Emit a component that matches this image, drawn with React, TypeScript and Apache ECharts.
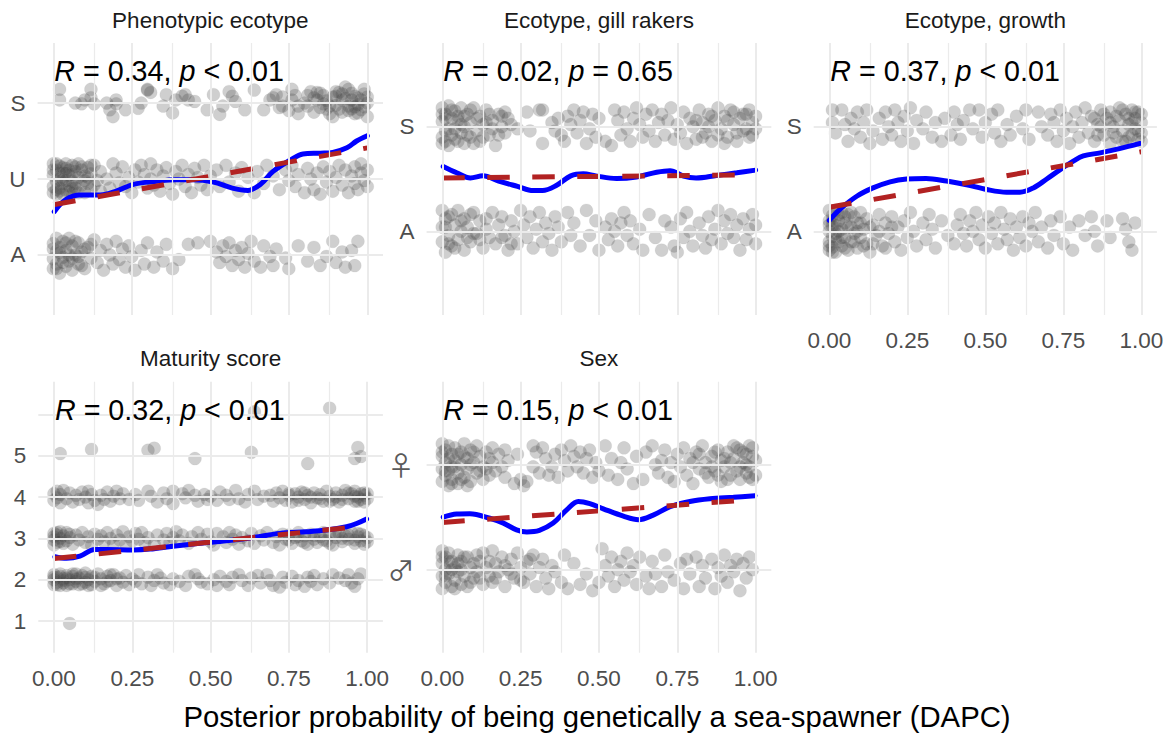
import React, { useEffect, useRef } from "react";
import * as echarts from "echarts";

// ---------- data ----------
const xTickValues = [0, 0.25, 0.5, 0.75, 1];
const xGridValues = [0, 0.125, 0.25, 0.375, 0.5, 0.625, 0.75, 0.875, 1];

const panelTitles = ["Phenotypic ecotype", "Ecotype, gill rakers", "Ecotype, growth", "Maturity score", "Sex"];
const corrR = ["0.34", "0.02", "0.37", "0.32", "0.15"];
const corrP = ["< 0.01", "= 0.65", "< 0.01", "< 0.01", "< 0.01"];

const phenoLevels = ["A", "U", "S"];
const gillLevels = ["A", "S"];
const growthLevels = ["A", "S"];
const maturityLevels = ["1", "2", "3", "4", "5"];
const sexLevels = ["\u2642", "\u2640"];

// jittered points: [x in percent, offset from level in hundredths]
const phenoS = [[2,18],[2,4],[7,0],[9,-1],[10,4],[12,18],[12,7],[13,-1],[17,0],[18,-9],[19,-18],[20,4],[20,-1],[23,-9],[27,-7],[28,0],[30,18],[30,17],[31,14],[35,-4],[36,11],[38,-13],[39,4],[41,9],[42,11],[43,4],[45,2],[49,-9],[51,11],[53,-15],[54,-4],[56,15],[57,9],[58,2],[61,-9],[64,17],[67,-9],[69,4],[70,7],[71,11],[72,-6],[73,8],[73,-4],[75,-10],[76,18],[76,4],[77,10],[78,-4],[78,-14],[80,0],[81,-4],[82,15],[83,7],[84,4],[85,13],[86,-1],[86,10],[87,-8],[88,-14],[88,-4],[89,-18],[90,9],[90,15],[91,-8],[92,4],[92,12],[93,21],[94,18],[94,-10],[95,4],[96,-5],[96,9],[97,-13],[97,-2],[98,4],[99,-5],[99,12],[100,0],[100,-18],[81,10],[83,-12],[84,14],[85,-6],[87,3],[89,8],[90,-3],[91,14],[92,-12],[93,6],[94,-4],[95,13],[96,-14],[97,7],[98,-9],[99,18],[100,8],[95,-8]];
const phenoU = [[0,20],[0,5],[0,-10],[0,-18],[1,12],[1,-3],[1,-20],[2,17],[2,0],[2,-12],[3,8],[3,-6],[3,-20],[4,20],[4,14],[4,-2],[4,-15],[5,5],[5,-9],[6,18],[6,-3],[6,-19],[7,10],[7,-12],[8,2],[8,20],[9,-8],[9,12],[10,-18],[10,4],[11,15],[11,-6],[12,-14],[12,7],[13,18],[14,-2],[15,-16],[15,10],[17,0],[18,-12],[19,20],[20,8],[21,-5],[22,16],[23,-10],[24,2],[25,-18],[26,12],[27,-4],[28,18],[29,6],[30,-12],[31,20],[31,0],[32,-8],[33,12],[34,-16],[35,4],[36,15],[37,-6],[38,-20],[39,10],[40,0],[41,18],[42,-10],[43,6],[44,-18],[45,14],[46,2],[47,-8],[48,18],[49,-14],[50,4],[52,12],[53,-10],[55,18],[56,-4],[58,8],[59,-16],[60,15],[62,2],[64,-18],[65,10],[67,-6],[68,18],[70,4],[72,-14],[74,12],[75,-2],[76,18],[77,-10],[78,6],[80,-18],[81,14],[82,0],[83,-14],[84,8],[85,-20],[86,16],[87,-4],[88,10],[89,-16],[90,2],[91,18],[92,-8],[93,12],[94,-18],[95,4],[96,16],[96,-6],[97,-14],[98,8],[98,20],[99,-2],[100,12],[100,-10],[0,12],[1,-14],[2,8],[3,15],[3,-1],[5,-16],[5,12],[6,6],[7,-6],[8,-18],[9,16],[10,-2],[11,2],[12,18],[13,-8],[2,-16],[4,8],[7,16],[1,20],[6,-12]];
const phenoA = [[0,15],[0,-5],[0,-18],[1,22],[1,5],[1,-12],[2,-24],[2,10],[3,-3],[3,18],[4,-15],[4,6],[5,22],[5,-8],[6,-20],[6,12],[7,0],[8,-12],[8,16],[9,4],[10,-18],[11,10],[12,-4],[13,20],[14,-10],[15,6],[16,-20],[17,14],[18,0],[19,-12],[20,18],[21,-6],[22,8],[23,-16],[24,12],[25,-2],[26,-20],[28,6],[29,-12],[30,16],[32,-16],[33,4],[35,-8],[36,14],[38,-18],[40,-6],[43,14],[46,16],[50,18],[52,4],[53,-10],[54,12],[55,-2],[56,16],[57,-14],[58,6],[59,-6],[60,10],[61,-16],[62,2],[63,18],[64,-8],[66,-16],[67,12],[69,-2],[70,-14],[71,8],[74,-4],[75,-18],[78,12],[81,-8],[83,10],[85,-14],[87,-2],[89,18],[90,-10],[92,4],[93,-16],[95,6],[96,-14],[97,18],[0,8],[1,-18],[2,3],[3,-10],[4,16],[5,0],[6,-4],[7,18],[8,-2],[9,-14],[10,8],[12,14]];

const gillS = [[0,18],[0,5],[0,-10],[0,-16],[1,12],[1,-4],[2,20],[2,-18],[3,8],[3,-8],[4,15],[4,-2],[5,-14],[5,6],[6,18],[6,-6],[7,0],[7,-16],[8,12],[9,-10],[9,4],[10,18],[11,-4],[12,10],[12,-14],[13,2],[14,16],[15,-8],[16,6],[17,-18],[18,12],[19,0],[20,-6],[21,8],[22,2],[24,-2],[27,14],[28,-4],[31,16],[32,-16],[32,16],[35,4],[36,-4],[37,8],[38,-8],[39,-14],[40,10],[41,2],[42,16],[43,-6],[44,6],[45,14],[46,-16],[47,-2],[48,12],[49,-10],[50,8],[52,-14],[54,-18],[55,16],[56,6],[57,-8],[58,14],[59,-2],[60,-14],[61,8],[62,18],[63,2],[64,-10],[65,12],[66,-4],[67,16],[68,-14],[69,4],[70,12],[71,-8],[72,6],[73,18],[74,-12],[75,2],[76,-6],[77,14],[78,-16],[79,8],[80,0],[81,-12],[82,16],[83,4],[84,-6],[85,12],[86,-14],[87,6],[88,18],[89,-2],[90,10],[91,-10],[92,16],[93,2],[94,-14],[95,8],[96,-4],[97,12],[98,-10],[99,4],[100,-2],[100,10],[0,12],[1,-14],[1,8],[2,-2],[3,16],[4,-12],[5,10],[6,2],[7,10],[8,-8],[9,16],[10,-16],[11,8],[13,-10],[14,4],[15,12],[16,-2],[18,-8],[19,10],[20,14],[81,6],[83,-10],[85,0],[86,10],[88,-8],[90,-16],[91,6],[93,14],[94,-6],[96,12],[97,-2],[98,16],[99,-8]];
const gillA = [[0,20],[0,4],[0,-10],[1,-20],[1,12],[2,-4],[3,16],[3,-14],[4,6],[5,-8],[5,20],[6,0],[7,-18],[7,12],[8,4],[9,-10],[10,18],[11,-2],[12,10],[13,-16],[14,2],[15,-6],[16,18],[17,-12],[18,6],[19,14],[20,-4],[21,-18],[22,10],[23,0],[24,-12],[25,20],[26,6],[27,-6],[28,14],[29,-16],[30,2],[31,18],[32,-10],[33,8],[34,-2],[35,-18],[36,14],[37,4],[38,-10],[40,18],[41,-4],[42,8],[44,-14],[46,20],[47,-4],[49,10],[50,-18],[52,4],[53,-8],[54,12],[55,0],[56,-14],[57,8],[58,18],[59,-4],[60,10],[61,-12],[63,2],[64,-18],[66,16],[68,-6],[70,-18],[71,10],[73,4],[74,-14],[75,-20],[76,12],[77,-6],[78,18],[79,0],[80,-14],[82,8],[83,-4],[84,-16],[85,14],[86,-8],[87,2],[88,20],[89,-12],[90,10],[91,-2],[92,16],[93,-6],[94,6],[95,-18],[96,12],[97,-8],[98,2],[99,16],[100,-12],[100,6],[1,4],[2,14],[2,-12],[4,-16],[6,10],[8,-6],[9,16],[10,-2],[12,-8],[14,12],[19,-6],[22,-12]];

const growthS = [[1,16],[1,4],[2,-6],[4,16],[5,2],[6,-14],[7,8],[8,-2],[9,14],[10,-10],[11,4],[12,16],[13,-16],[14,-4],[16,8],[17,-12],[18,14],[19,0],[20,-8],[21,16],[22,4],[23,-14],[24,10],[25,-4],[26,18],[27,-16],[28,6],[30,-2],[31,14],[33,-10],[34,4],[36,-14],[37,8],[39,-8],[40,14],[41,2],[42,-12],[43,6],[45,16],[46,-2],[48,16],[49,-10],[50,4],[52,12],[53,-6],[54,16],[55,-14],[57,2],[58,-8],[60,10],[62,-2],[63,16],[64,-12],[67,14],[68,0],[70,-8],[71,12],[72,4],[73,-14],[74,16],[75,-4],[76,8],[77,-16],[78,0],[79,14],[80,-10],[81,4],[82,18],[83,-6],[84,10],[85,-14],[86,2],[87,16],[88,-8],[89,8],[90,-16],[90,14],[91,0],[92,-10],[93,18],[93,6],[94,-4],[95,12],[95,-14],[96,2],[97,16],[97,-8],[98,8],[98,-2],[99,14],[99,-12],[100,4],[100,-6],[85,8],[86,-8],[87,0],[88,12],[90,4],[91,-6],[92,10],[94,-14],[94,16],[96,8],[96,-10],[97,4],[98,14],[99,-4],[100,12],[100,-14]];
const growthA = [[0,20],[0,10],[0,0],[0,-10],[0,-18],[1,15],[1,5],[1,-5],[1,-15],[2,20],[2,-2],[2,-20],[3,10],[3,-10],[4,18],[4,2],[4,-14],[5,8],[5,-6],[6,16],[6,-18],[7,4],[7,-10],[8,14],[8,-2],[9,-16],[9,8],[10,18],[10,-6],[11,2],[12,-12],[12,12],[13,-20],[14,6],[15,-4],[16,16],[17,-14],[18,8],[19,-2],[20,14],[21,-10],[22,4],[23,-18],[24,10],[25,-6],[26,18],[27,0],[28,-14],[30,8],[31,-8],[32,16],[33,2],[34,-16],[36,10],[38,-4],[40,-12],[41,6],[42,16],[43,-2],[44,-14],[45,10],[46,0],[47,18],[48,-8],[49,6],[50,-16],[51,14],[52,-2],[53,8],[54,-12],[55,18],[56,2],[57,-8],[58,12],[59,-18],[60,4],[61,-6],[62,14],[63,-14],[64,8],[65,0],[66,18],[67,-10],[68,4],[70,-16],[71,10],[72,-4],[74,14],[75,-12],[77,4],[78,-18],[80,10],[82,-4],[84,14],[85,0],[86,-14],[89,10],[90,-6],[94,12],[95,2],[96,-10],[97,-18],[98,8],[0,6],[0,-14],[1,10],[1,-20],[2,6],[2,-8],[3,16],[3,0],[4,-6],[5,14],[5,-16],[6,4],[7,18],[8,-10],[9,0],[10,8],[11,-14],[13,4],[14,-12],[16,0],[18,-16],[20,4]];

const maturity1 = [[5,-6]];
const maturity2 = [[0,12],[0,0],[0,-12],[1,6],[1,-6],[2,14],[2,-14],[3,2],[3,-8],[4,10],[4,-14],[5,0],[6,8],[6,-10],[7,14],[7,-4],[8,4],[8,-12],[9,10],[10,-6],[10,16],[11,0],[12,-12],[12,8],[13,-4],[14,14],[15,2],[16,-10],[17,8],[18,-2],[19,12],[20,-14],[21,4],[22,-6],[23,10],[24,-12],[25,2],[26,-4],[27,12],[28,-10],[30,6],[31,-14],[32,-2],[33,12],[34,4],[35,-8],[37,-12],[38,2],[40,-4],[42,-14],[43,8],[45,12],[46,2],[47,-6],[49,-10],[51,0],[52,-14],[53,8],[55,-4],[56,-12],[57,6],[59,12],[60,-2],[62,-14],[63,4],[65,10],[66,-8],[68,12],[69,-2],[70,-14],[72,-18],[73,6],[74,-6],[76,8],[77,-12],[78,-2],[80,-16],[81,6],[82,-4],[83,10],[84,-12],[86,2],[88,-8],[89,12],[91,4],[93,-2],[94,12],[95,-8],[96,-16],[97,2],[98,14],[0,6],[1,-12],[2,8],[3,-2],[4,4],[5,-10],[6,14],[7,2],[9,-10],[10,6],[11,-14],[13,6],[15,-14],[17,-4],[18,12],[20,2]];
const maturity3 = [[0,12],[0,-4],[0,-16],[1,8],[1,-10],[2,16],[2,0],[3,-12],[3,6],[4,14],[4,-6],[5,2],[6,-14],[7,8],[8,-4],[9,14],[10,-10],[11,4],[12,-16],[13,10],[14,-2],[15,6],[16,-8],[17,14],[18,0],[19,-12],[20,8],[21,-4],[22,16],[23,-14],[24,4],[25,-6],[26,12],[27,-2],[28,14],[29,-10],[30,2],[32,-14],[33,8],[35,-4],[36,12],[37,-10],[38,2],[39,16],[40,-6],[41,8],[43,-12],[44,4],[46,14],[47,-2],[49,10],[50,-8],[51,-16],[52,12],[54,4],[55,-10],[56,14],[57,-2],[58,8],[59,-14],[60,2],[62,-6],[63,12],[64,-12],[66,6],[67,-4],[68,14],[70,-10],[71,4],[72,-16],[73,10],[74,-2],[75,8],[76,-12],[77,2],[78,14],[79,-6],[80,6],[81,-14],[82,10],[83,-2],[84,-10],[85,4],[86,14],[87,-6],[88,8],[89,-16],[90,2],[91,12],[92,-8],[93,6],[94,-2],[95,14],[96,-12],[97,4],[98,-6],[98,10],[99,-14],[100,2],[100,-8],[0,4],[1,14],[2,-8],[5,10],[75,-4],[78,4],[80,-10],[83,6],[86,-4],[88,-12],[90,10],[92,0],[94,8],[96,-4],[97,12],[99,6]];
const maturity4 = [[0,8],[0,-8],[1,14],[1,-2],[2,-14],[2,6],[3,16],[4,-4],[5,10],[6,-12],[7,4],[8,-6],[9,12],[10,0],[11,-14],[11,14],[12,6],[13,-8],[14,-18],[15,4],[16,-6],[17,12],[18,-10],[19,2],[20,14],[21,-4],[22,8],[24,-6],[26,6],[27,-8],[30,14],[31,2],[33,-12],[35,10],[36,-4],[38,-16],[38,14],[41,8],[42,-2],[43,16],[45,4],[46,-10],[48,6],[49,-6],[50,2],[52,-8],[53,12],[55,4],[56,-6],[58,16],[59,-4],[61,-12],[62,6],[64,14],[65,-6],[67,2],[69,4],[70,-10],[71,10],[72,-2],[73,14],[74,-8],[75,4],[76,-12],[77,8],[78,0],[79,12],[80,-6],[81,4],[82,-14],[83,10],[84,-2],[85,6],[86,-10],[87,14],[88,2],[89,-6],[90,10],[91,-12],[92,4],[93,16],[94,-4],[95,8],[96,-10],[96,14],[97,0],[98,-6],[98,8],[99,-12],[99,4],[100,-4],[100,8],[75,8],[78,-8],[80,10],[82,0],[85,-4],[88,-10],[90,0],[92,-6],[94,10],[96,2],[97,-10],[99,10]];
const maturity5 = [[2,5],[12,15],[30,13],[32,18],[45,-7],[63,8],[81,-19],[96,-7],[97,20],[98,-2]];
const maturity6 = [[64,6],[88,15]];

const sexFemale = [[0,20],[0,8],[0,-4],[0,-16],[1,14],[1,2],[1,-10],[2,18],[2,-6],[2,-20],[3,10],[3,-2],[3,-14],[4,16],[4,4],[5,-8],[5,-18],[6,12],[6,0],[7,-12],[7,20],[8,6],[8,-4],[9,14],[9,-16],[10,2],[11,-8],[11,18],[12,8],[13,-14],[13,-2],[14,12],[15,-10],[16,16],[16,2],[17,-6],[18,10],[19,-2],[20,14],[20,-12],[21,4],[23,-18],[24,10],[25,-14],[26,-20],[27,-16],[29,18],[29,-2],[30,12],[31,-8],[32,16],[33,6],[34,-10],[35,-2],[36,10],[37,-12],[38,14],[39,4],[40,-6],[41,18],[42,8],[43,-2],[44,12],[45,-8],[46,6],[47,14],[48,-12],[49,2],[50,-6],[52,18],[53,-10],[54,6],[56,-14],[57,2],[58,16],[59,-4],[61,-18],[62,8],[64,-14],[65,12],[67,18],[68,0],[69,-8],[70,4],[71,14],[72,-12],[73,2],[74,-16],[75,10],[76,-2],[77,16],[78,-10],[79,6],[80,-18],[81,12],[82,-4],[83,18],[84,2],[85,-12],[86,8],[87,-6],[88,14],[89,-16],[89,4],[90,-2],[91,12],[92,-10],[93,18],[93,6],[94,-6],[95,14],[95,-14],[96,2],[97,10],[97,-8],[98,18],[98,-2],[99,8],[99,-14],[100,4],[100,-10],[0,12],[1,-6],[2,6],[3,-18],[4,-2],[5,10],[6,-14],[7,8],[8,-20],[9,0],[10,12],[12,-6],[14,-4],[15,6],[80,2],[82,10],[84,-8],[86,-2],[87,12],[88,-10],[90,6],[91,-14],[92,2],[94,16],[95,-2],[96,12],[97,0],[98,-12],[99,16]];
const sexMale = [[0,18],[0,6],[0,-6],[0,-18],[1,12],[1,0],[1,-12],[2,16],[2,-4],[3,8],[3,-16],[4,2],[4,-10],[5,14],[5,-2],[6,-14],[6,8],[7,-6],[8,12],[8,-16],[9,2],[10,-8],[11,14],[11,-2],[12,8],[13,-14],[14,2],[15,-6],[16,18],[16,-12],[17,6],[18,-2],[19,12],[20,-16],[21,0],[22,10],[23,-8],[24,16],[25,2],[26,-12],[27,8],[28,-4],[29,14],[30,-16],[31,2],[32,10],[33,-8],[34,-18],[35,4],[36,-2],[38,-12],[39,14],[40,-18],[42,6],[44,-14],[46,-4],[48,-20],[50,-12],[51,20],[52,4],[53,-6],[54,12],[55,-16],[56,0],[57,8],[58,-10],[59,16],[60,-2],[61,4],[62,-14],[63,12],[65,-6],[66,-18],[67,8],[68,-4],[70,-16],[71,14],[72,-2],[74,-10],[76,6],[77,-18],[78,10],[79,-4],[81,12],[82,-16],[83,4],[84,-8],[86,10],[87,-18],[88,2],[89,-6],[90,14],[91,-12],[92,4],[93,-2],[94,10],[95,-20],[96,6],[97,-8],[98,12],[99,0],[0,12],[1,-6],[2,8],[3,0],[4,-18],[5,6],[6,0],[7,12],[9,-12],[10,6],[12,-8],[13,16],[15,8],[17,-8],[20,4],[22,-4],[25,-10],[28,10]];

// smoothers (loess) and linear fits, in data units
const phenoLoess = [[0.003,1.57],[0.04,1.73],[0.085,1.79],[0.15,1.79],[0.2,1.84],[0.255,1.93],[0.33,1.97],[0.39,1.99],[0.445,1.99],[0.51,1.96],[0.57,1.88],[0.62,1.85],[0.66,1.93],[0.7,2.1],[0.755,2.25],[0.795,2.33],[0.85,2.34],[0.89,2.35],[0.935,2.41],[0.966,2.5],[1.0,2.57]];
const phenoLm = [[0, 1.66], [1, 2.41]];
const gillLoess = [[0.003,1.62],[0.046,1.56],[0.09,1.51],[0.13,1.53],[0.18,1.48],[0.24,1.43],[0.29,1.39],[0.32,1.39],[0.365,1.44],[0.41,1.53],[0.45,1.55],[0.49,1.53],[0.556,1.505],[0.62,1.52],[0.684,1.565],[0.727,1.58],[0.77,1.527],[0.81,1.51],[0.875,1.534],[0.94,1.56],[1.0,1.585]];
const gillLm = [[0, 1.51], [1, 1.54]];
const growthLoess = [[0,1.105],[0.034,1.21],[0.088,1.335],[0.14,1.415],[0.195,1.473],[0.248,1.5],[0.31,1.505],[0.376,1.48],[0.44,1.445],[0.504,1.4],[0.568,1.374],[0.611,1.374],[0.654,1.415],[0.697,1.5],[0.74,1.59],[0.782,1.67],[0.814,1.72],[0.868,1.75],[0.93,1.79],[0.996,1.84]];
const growthLm = [[0, 1.23], [1, 1.76]];
const maturityLoess = [[0.003,2.556],[0.04,2.516],[0.083,2.57],[0.13,2.73],[0.168,2.73],[0.253,2.72],[0.306,2.74],[0.38,2.81],[0.466,2.88],[0.55,2.94],[0.636,3.02],[0.72,3.12],[0.806,3.16],[0.87,3.2],[0.934,3.28],[0.966,3.36],[0.998,3.47]];
const maturityLm = [[0, 2.51], [1, 3.31]];
const sexLoess = [[0.003,1.5],[0.046,1.53],[0.088,1.533],[0.152,1.49],[0.195,1.444],[0.237,1.38],[0.27,1.36],[0.31,1.375],[0.354,1.444],[0.397,1.57],[0.434,1.65],[0.471,1.63],[0.514,1.58],[0.578,1.51],[0.626,1.476],[0.673,1.52],[0.727,1.6],[0.79,1.65],[0.854,1.676],[0.929,1.69],[0.998,1.705]];
const sexLm = [[0, 1.45], [1, 1.67]];

// ---------- layout / style ----------
const FONT = "'Liberation Sans', Arial, Helvetica, sans-serif";
const SYMBOL_FONT = "'Noto Sans CJK JP', 'DejaVu Sans'";
const GRID_COLOR = "#EBEBEB";
const X_MIN = -0.05;
const X_MAX = 1.05;

type Panel = {
  box: { left: number; top: number; width: number; height: number };
  yMin: number;
  yMax: number;
  levels: string[];
  gridLevels: number[];
  bands: { level: number; pts: number[][] }[];
  loess: number[][];
  lm: number[][];
  showX: boolean;
  symbolLabels?: boolean;
};

const panels: Panel[] = [
  {
    box: { left: 37.6, top: 43, width: 345.4, height: 272 },
    yMin: 0.21, yMax: 3.79, levels: phenoLevels, gridLevels: [1, 2, 3],
    bands: [{ level: 1, pts: phenoA }, { level: 2, pts: phenoU }, { level: 3, pts: phenoS }],
    loess: phenoLoess, lm: phenoLm, showX: false,
  },
  {
    box: { left: 426.6, top: 43, width: 344.7, height: 272 },
    yMin: 0.2, yMax: 2.8, levels: gillLevels, gridLevels: [1, 2],
    bands: [{ level: 1, pts: gillA }, { level: 2, pts: gillS }],
    loess: gillLoess, lm: gillLm, showX: false,
  },
  {
    box: { left: 813.7, top: 43, width: 343.2, height: 272 },
    yMin: 0.2, yMax: 2.8, levels: growthLevels, gridLevels: [1, 2],
    bands: [{ level: 1, pts: growthA }, { level: 2, pts: growthS }],
    loess: growthLoess, lm: growthLm, showX: true,
  },
  {
    box: { left: 38.3, top: 381.7, width: 344.6, height: 271 },
    yMin: 0.233, yMax: 6.79, levels: maturityLevels, gridLevels: [1, 2, 3, 4, 5, 6],
    bands: [
      { level: 1, pts: maturity1 }, { level: 2, pts: maturity2 }, { level: 3, pts: maturity3 },
      { level: 4, pts: maturity4 }, { level: 5, pts: maturity5 }, { level: 6, pts: maturity6 },
    ],
    loess: maturityLoess, lm: maturityLm, showX: true,
  },
  {
    box: { left: 426.6, top: 381.7, width: 344.7, height: 271 },
    yMin: 0.21, yMax: 2.79, levels: sexLevels, gridLevels: [1, 2],
    bands: [{ level: 1, pts: sexMale }, { level: 2, pts: sexFemale }],
    loess: sexLoess, lm: sexLm, showX: true, symbolLabels: true,
  },
];

function buildOption() {
  const grid: any[] = [];
  const xAxis: any[] = [];
  const yAxis: any[] = [];
  const series: any[] = [];
  const graphic: any[] = [];

  panels.forEach((p, i) => {
    grid.push({ ...p.box, containLabel: false, outerBoundsMode: "none" });
    xAxis.push({
      type: "value", gridIndex: i, min: X_MIN, max: X_MAX,
      axisLine: { show: false }, axisTick: { show: false }, splitLine: { show: false },
      axisLabel: {
        show: p.showX, customValues: xTickValues, margin: 14,
        formatter: (v: number) => v.toFixed(2),
        color: "#4D4D4D", fontSize: 22.5, fontFamily: FONT,
      },
    });
    yAxis.push({
      type: "value", gridIndex: i, min: p.yMin, max: p.yMax,
      axisLine: { show: false }, axisTick: { show: false }, splitLine: { show: false },
      axisLabel: {
        show: true,
        customValues: p.levels.map((_, k) => k + 1),
        margin: p.symbolLabels ? 12 : 12,
        formatter: (v: number) => p.levels[Math.round(v) - 1] ?? "",
        color: p.symbolLabels ? "#5A5A5A" : "#4D4D4D",
        fontSize: p.symbolLabels ? 27 : 22.5,
        fontFamily: p.symbolLabels ? SYMBOL_FONT : FONT,
      },
    });

    // panel grid lines
    series.push({
      type: "scatter", xAxisIndex: i, yAxisIndex: i, data: [], z: 1, silent: true,
      markLine: {
        silent: true, symbol: "none", animation: false, label: { show: false },
        lineStyle: { color: GRID_COLOR, width: 2, type: "solid" },
        emphasis: { disabled: true },
        data: [
          ...xGridValues.map((v, k) => ({
            xAxis: v,
            lineStyle: { color: GRID_COLOR, width: k % 2 === 0 ? 2 : 1.2, type: "solid" },
          })),
          ...p.gridLevels.map((v) => ({ yAxis: v, lineStyle: { color: GRID_COLOR, width: 2, type: "solid" } })),
        ],
      },
    });

    // jittered points
    const pts: number[][] = [];
    p.bands.forEach((b) => b.pts.forEach(([x, off]) => pts.push([x / 100, b.level + off / 100])));
    series.push({
      type: "scatter", xAxisIndex: i, yAxisIndex: i, data: pts, z: 2, silent: true,
      symbol: "circle", symbolSize: 13,
      itemStyle: { color: "rgba(68,68,68,0.32)", borderColor: "rgba(160,160,160,0.25)", borderWidth: 0.6 },
    });

    // loess smoother
    series.push({
      type: "line", xAxisIndex: i, yAxisIndex: i, data: p.loess, z: 3, silent: true,
      smooth: 0.35, showSymbol: false, symbol: "none",
      lineStyle: { color: "#0000FF", width: 5, cap: "round" },
    });
    // linear fit
    series.push({
      type: "line", xAxisIndex: i, yAxisIndex: i, data: p.lm, z: 4, silent: true,
      showSymbol: false, symbol: "none",
      lineStyle: { color: "#B22222", width: 5, type: [22.5, 22.5], cap: "butt" },
    });

    // strip title
    const cx = p.box.left + p.box.width / 2;
    graphic.push({
      type: "text", x: cx, y: p.box.top - 23, silent: true,
      style: { text: panelTitles[i], fill: "#1A1A1A", font: `22.5px ${FONT}`, align: "center", verticalAlign: "middle" },
    });
    // correlation annotation
    const x0 = p.box.left + (0 - X_MIN) / (X_MAX - X_MIN) * p.box.width;
    graphic.push({
      type: "text", x: x0 + 1, y: p.box.top + 28, silent: true, z: 10,
      style: {
        text: `{i|R} = ${corrR[i]}, {i|p} ${corrP[i]}`,
        fill: "#000000", fontSize: 28.7, fontFamily: FONT,
        align: "left", verticalAlign: "middle",
        rich: { i: { fontStyle: "italic", fontSize: 28.7, fontFamily: FONT, fill: "#000000" } },
      },
    });
  });

  graphic.push({
    type: "text", x: 597, y: 716, silent: true,
    style: {
      text: "Posterior probability of being genetically a sea-spawner (DAPC)",
      fill: "#000000", font: `29.3px ${FONT}`, align: "center", verticalAlign: "middle",
    },
  });

  return {
    animation: false,
    backgroundColor: "#FFFFFF",
    grid, xAxis, yAxis, series, graphic,
  };
}

export default function App() {
  const ref = useRef<HTMLDivElement>(null);
  useEffect(() => {
    document.body.style.margin = "0";
    if (!ref.current) return;
    const chart = echarts.init(ref.current, undefined, { renderer: "svg" });
    chart.setOption(buildOption() as any);
    return () => chart.dispose();
  }, []);
  return <div ref={ref} style={{ width: 1170, height: 733 }} />;
}
